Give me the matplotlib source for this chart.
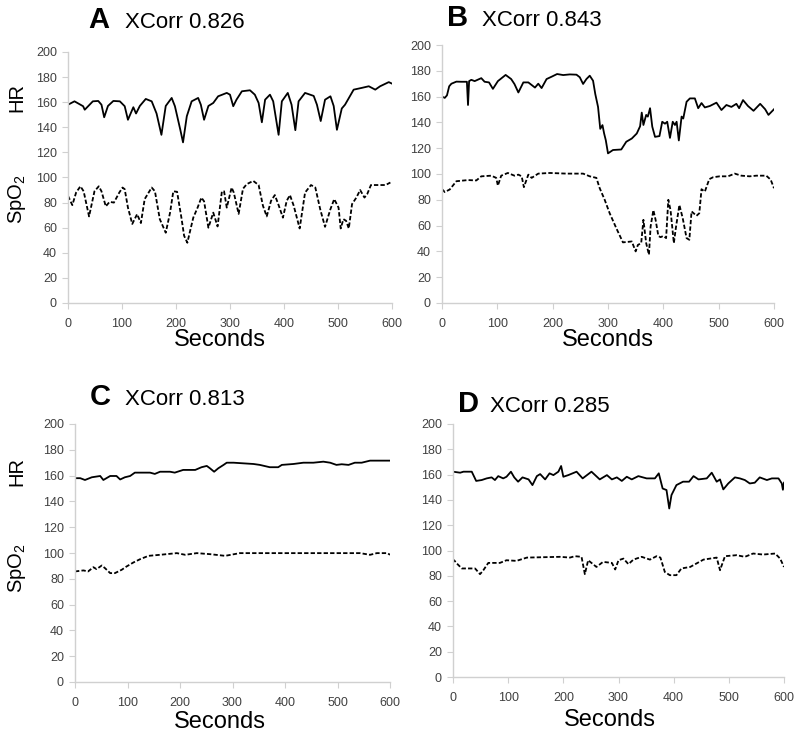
import matplotlib
matplotlib.use("Agg")
import matplotlib.pyplot as plt

plt.rcParams['font.family'] = ['Liberation Sans', 'DejaVu Sans']
plt.rcParams['mathtext.fontset'] = 'custom'
plt.rcParams['mathtext.rm'] = 'Liberation Sans'
plt.rcParams['mathtext.it'] = 'Liberation Sans:italic'

# ---------------- data ----------------
panel_letters = ["A", "B", "C", "D"]
xcorr_values = ["0.826", "0.843", "0.813", "0.285"]
x_ticks = [0, 100, 200, 300, 400, 500, 600]
y_ticks = [0, 20, 40, 60, 80, 100, 120, 140, 160, 180, 200]

# Panel A
a_hr_t = [0, 12, 28, 31, 46, 56, 62, 67, 74, 84, 96, 105, 111, 121, 126, 133, 144, 155, 164, 173,
          181, 192, 198, 208, 213, 220, 229, 241, 246, 252, 260, 269, 278, 294, 300, 306, 312, 322,
          337, 346, 353, 359, 365, 374, 380, 390, 396, 407, 414, 421, 427, 439, 455, 461, 468, 476,
          486, 492, 498, 507, 513, 529, 544, 557, 569, 578, 594, 600]
a_hr_v = [158, 160.7, 156.8, 154, 160.7, 161, 158, 148, 157, 161, 160.7, 156.8, 146, 156, 151, 157,
          162.6, 160.7, 151, 134, 157, 163.4, 156.8, 138, 128, 148.8, 160.7, 163.4, 158, 146, 157,
          159.4, 164.7, 167.4, 166, 156.8, 162, 168.7, 169.5, 166, 159.4, 144, 162, 166, 160.7, 134,
          160.7, 167.4, 158, 137.7, 160.7, 167.4, 165, 158, 145, 162, 164.7, 157, 138, 155, 158,
          170, 171.4, 172.7, 170, 172.7, 176, 174.8]
a_spo2_t = [0, 8, 15, 23, 29, 39, 49, 57, 62, 70, 77, 85, 95, 101, 105, 111, 119, 128, 135, 142,
            155, 161, 170, 181, 189, 195, 202, 210, 215, 221, 227, 232, 240, 247, 252, 260, 269, 277,
            285, 289, 294, 303, 307, 316, 324, 331, 343, 353, 361, 368, 376, 383, 390, 398, 405, 411,
            418, 429, 439, 450, 458, 467, 476, 486, 493, 501, 505, 510, 515, 520, 526, 534, 541, 549,
            554, 561, 578, 588, 597]
a_spo2_v = [85.4, 78, 88, 93, 89, 69, 89, 93, 89, 77, 80.6, 80, 88, 92, 90.7, 76, 63, 70.8, 63.7,
            82.8, 92, 89, 66.8, 56, 72, 89, 88.6, 68, 53.6, 48, 59, 68, 76, 84, 81, 60, 72, 61, 89, 89,
            76, 92, 88, 71, 91, 94.7, 97.3, 94, 77.5, 69, 81.4, 86, 78, 68, 81.4, 86, 77.5, 59.4, 88,
            94, 92, 74.8, 60.7, 74.8, 82.8, 76, 59.4, 66.8, 65.5, 59.4, 78.8, 84, 90, 84, 86.7, 94,
            94, 94, 96]

# Panel B
b_hr_t = [0, 5, 9, 13, 17, 26, 35, 45, 47, 49, 53, 59, 71, 77, 85, 92, 101, 115, 125, 131, 138,
          147, 156, 162, 168, 174, 180, 189, 198, 208, 219, 231, 243, 249, 255, 261, 267, 273, 277,
          282, 286, 290, 293, 296, 300, 309, 324, 333, 343, 352, 358, 361, 364, 369, 372, 376, 380,
          385, 393, 398, 403, 407, 412, 417, 421, 424, 428, 433, 436, 442, 448, 457, 463, 469, 475,
          484, 496, 505, 514, 523, 532, 537, 544, 553, 563, 575, 584, 590, 600]
b_hr_v = [160, 159, 161, 168, 170, 171.6, 171.5, 171.5, 153.5, 172, 173, 172, 174.3, 171.5, 171,
          166, 172, 176.8, 173.6, 169.7, 163.2, 171, 171, 169, 167, 170, 166.6, 173.6, 175.4, 177.5,
          176.7, 177.2, 177, 175, 169.8, 173.6, 176.2, 172.3, 162, 152, 135, 137.9, 131.4, 126.2,
          116, 118.6, 119, 125, 127.5, 131.4, 137, 147.6, 138, 145.8, 144.5, 151, 136.7, 128.8,
          129.4, 140.5, 139, 140.5, 128, 140.5, 138, 140.5, 126, 144.5, 143, 156, 158.6, 158.6, 151,
          155, 151.6, 152.7, 155.3, 149.6, 153.5, 152, 154.4, 151, 157.3, 152.7, 149, 154.4, 150.2,
          145.8, 150.2]
b_spo2_t = [0, 5, 14, 26, 47, 62, 71, 89, 98, 101, 107, 119, 131, 138, 144, 148, 156, 162, 174,
            195, 225, 255, 267, 279, 285, 294, 303, 315, 327, 343, 350, 354, 360, 364, 369, 374,
            377, 382, 386, 391, 395, 400, 405, 409, 413, 419, 423, 429, 435, 442, 447, 451, 460,
            465, 469, 475, 483, 490, 502, 517, 529, 541, 556, 568, 586, 594, 600]
b_spo2_v = [88.3, 86, 88, 94.4, 95.3, 95, 98.2, 98.7, 97, 91, 98.7, 100.8, 98.7, 99.5, 98.2, 89.8,
            99.5, 97, 100.3, 100.8, 100.3, 100.3, 98.2, 97, 89, 80, 69.6, 58, 47, 47.7, 40, 45, 46.4,
            64.5, 46.4, 37.4, 59.3, 72, 64.5, 52, 51, 52, 50.3, 80, 72, 46.4, 59.3, 76, 65.8, 50.3,
            49, 71, 67.6, 69.6, 88.2, 86.3, 96, 97.5, 98.2, 98.2, 100.3, 98.7, 98.2, 98.7, 98.7,
            95.6, 89]

# Panel C
c_hr_t = [0, 10, 19, 32, 48, 54, 67, 79, 86, 95, 105, 114, 143, 152, 162, 181, 190, 206, 229, 241,
          251, 257, 265, 273, 283, 289, 302, 321, 340, 352, 371, 387, 394, 416, 435, 454, 473, 486,
          498, 508, 521, 533, 546, 562, 581, 600]
c_hr_v = [158, 158, 156.6, 158.7, 159.7, 156.6, 159.7, 159.7, 157, 158.7, 159.7, 162.3, 162.3,
          161.3, 163, 163, 162.3, 164.4, 164.4, 166.5, 167.5, 165.7, 163, 165.7, 168.3, 170, 170,
          169.5, 169, 168.3, 166.5, 166.5, 168.3, 169, 170, 170, 170.8, 170, 168.3, 168.8, 168.3,
          170, 170, 171.6, 171.6, 171.6]
c_spo2_t = [0, 16, 25, 35, 41, 51, 57, 67, 76, 89, 98, 111, 124, 140, 162, 194, 210, 232, 257,
            286, 314, 416, 543, 562, 575, 595, 600]
c_spo2_v = [85.7, 86.5, 85.7, 89, 87.5, 90.3, 88.3, 84.4, 84.4, 87, 89.5, 92.6, 95.2, 97.8, 98.6,
            99.9, 98.6, 99.9, 99.1, 97.8, 99.9, 99.9, 99.9, 98.6, 99.9, 99.9, 98.6]

# Panel D
d_hr_t = [0, 13, 19, 34, 42, 52, 61, 70, 76, 82, 91, 97, 105, 111, 118, 126, 137, 144, 152, 158,
          167, 175, 182, 191, 196, 200, 209, 224, 235, 251, 266, 279, 288, 297, 306, 315, 324, 336,
          351, 366, 373, 380, 387, 392, 396, 405, 417, 428, 436, 445, 460, 469, 478, 484, 490, 499,
          511, 520, 529, 538, 547, 556, 569, 578, 590, 596, 598, 600]
d_hr_v = [162.3, 161.5, 162.3, 162.3, 155, 155.7, 157, 157.8, 155.7, 158.8, 157, 158.3, 162.3,
          157.8, 154.4, 157.8, 156.2, 151.7, 158.8, 160.4, 156.2, 161, 159.6, 162.3, 166.8, 158.3,
          159.6, 162.3, 157, 162.3, 156.2, 159.6, 156.2, 157.8, 155, 158.3, 156.2, 158.8, 157, 157,
          161, 149, 147.8, 133.2, 143.8, 151.7, 154.4, 154.4, 158.8, 156.2, 157, 161.5, 154.4,
          156.2, 148.3, 153, 157.8, 157, 155.7, 153, 153.6, 157.8, 155.7, 157, 157, 153, 148, 153.6]
d_spo2_t = [0, 2, 7, 16, 40, 49, 55, 64, 85, 97, 115, 134, 194, 212, 221, 233, 239, 245, 260, 272,
            288, 294, 300, 309, 318, 327, 342, 357, 369, 376, 384, 393, 405, 414, 430, 454, 478,
            484, 493, 514, 529, 544, 562, 584, 593, 600]
d_spo2_v = [91, 92.3, 89.7, 85.8, 85.8, 81.3, 84.4, 90.2, 90.2, 92.3, 91.8, 94.4, 95, 94.4, 95.5,
            95, 81.3, 92.3, 87, 91, 90.2, 85, 92.3, 93.6, 89.2, 92.8, 95, 92.8, 95.5, 94.4, 83,
            80.5, 80.5, 85.8, 87, 92.8, 94.4, 84.4, 95.5, 96.3, 95, 97.6, 96.8, 97.6, 93.6, 87]

series = [
    (a_hr_t, a_hr_v, a_spo2_t, a_spo2_v),
    (b_hr_t, b_hr_v, b_spo2_t, b_spo2_v),
    (c_hr_t, c_hr_v, c_spo2_t, c_spo2_v),
    (d_hr_t, d_hr_v, d_spo2_t, d_spo2_v),
]

# ---------------- layout ----------------
W, H = 800, 742
fig = plt.figure(figsize=(W / 100, H / 100), dpi=100)


def px_rect(left, top, right, bottom):
    return [left / W, 1 - bottom / H, (right - left) / W, (bottom - top) / H]


rects = [px_rect(68, 52, 392, 303), px_rect(442, 45, 774, 303),
         px_rect(75, 424, 390, 682), px_rect(453, 424, 784, 677)]
letter_pos = [(88, 28), (447, 26), (90, 405), (458, 412)]
xcorr_pos = [(125, 28), (482, 26), (125, 405), (490, 412)]
seconds_pos = [(220, 340), (608, 340), (220, 722), (610, 720)]

spine_col = "#d0d0d0"
tick_col = "#404040"
tick_font = ['Liberation Sans Narrow', 'Liberation Sans', 'DejaVu Sans']

for i, ax_rect in enumerate(rects):
    ax = fig.add_axes(ax_rect)
    hr_t, hr_v, sp_t, sp_v = series[i]
    ax.plot(hr_t, hr_v, color="black", lw=1.3, solid_joinstyle="round")
    ax.plot(sp_t, sp_v, color="black", lw=1.3, linestyle=(0, (2.4, 1.2)))
    ax.set_xlim(0, 600)
    ax.set_ylim(0, 200)
    ax.set_xticks(x_ticks)
    ax.set_yticks(y_ticks)
    for s in ["top", "right"]:
        ax.spines[s].set_visible(False)
    for s in ["left", "bottom"]:
        ax.spines[s].set_color(spine_col)
        ax.spines[s].set_linewidth(1.0)
    ax.tick_params(axis="both", direction="out", length=4, width=0.8, color=spine_col,
                   labelsize=9, labelcolor=tick_col, pad=4)
    ax.tick_params(axis="x", pad=7)
    for lab in ax.get_xticklabels() + ax.get_yticklabels():
        lab.set_family(tick_font)

    lx, ly = letter_pos[i]
    fig.text(lx / W, 1 - ly / H, panel_letters[i], fontsize=21, fontweight="bold",
             ha="left", va="baseline")
    cx, cy = xcorr_pos[i]
    fig.text(cx / W, 1 - cy / H, "XCorr " + xcorr_values[i], fontsize=16,
             ha="left", va="baseline")
    sx, sy = seconds_pos[i]
    fig.text(sx / W, 1 - sy / H, "Seconds", fontsize=17, ha="center", va="center")

# y labels (left column only)
for hr_y, sp_y in [(97, 199), (472, 568)]:
    fig.text(17 / W, 1 - hr_y / H, "HR", fontsize=14.5, rotation=90, ha="center", va="center")
    fig.text(17 / W, 1 - sp_y / H, r"SpO$_2$", fontsize=14.5, rotation=90, ha="center", va="center")

fig.savefig("out.png", dpi=100)
